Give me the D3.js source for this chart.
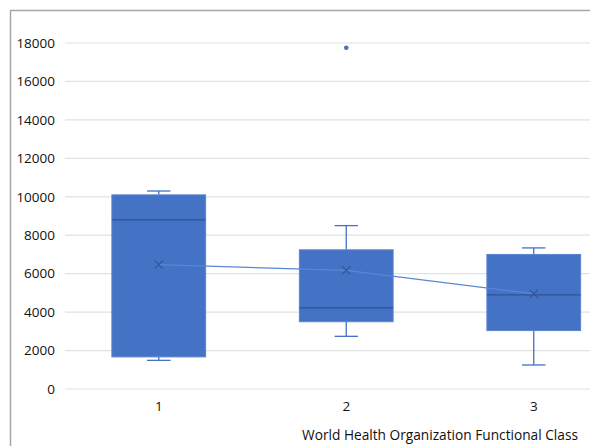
<!DOCTYPE html>
<html>
<head>
<meta charset="utf-8">
<script src="https://cdn.jsdelivr.net/npm/d3@7"></script>
<style>
  body { margin: 0; background: #fff; }
  text { font-family: "Open Sans", "Noto Sans", sans-serif; }
</style>
</head>
<body>
<div id="chart"></div>
<script>
// Données
const categories = ['1', '2', '3'];
const whiskerLow = [1490, 2740, 1250];
const q1 = [1670, 3500, 3040];
const medians = [8800, 4220, 4900];
const q3 = [10100, 7240, 7000];
const whiskerHigh = [10300, 8500, 7340];
const means = [6470, 6170, 4950];
const outliers = [{ cat: '2', value: 17750 }];
const yTicks = [0, 2000, 4000, 6000, 8000, 10000, 12000, 14000, 16000, 18000];
const xTitle = 'World Health Organization Functional Class';

const width = 590;
const height = 446;
const margin = { top: 10, left: 65, bottom: 57 };
const plotRight = 627.5; // la zone de tracé dépasse le bord droit (image recadrée)

const fill = '#4472C4';
const dark = '#2F5597';

const svg = d3.select('#chart')
    .append('svg')
    .attr('width', width)
    .attr('height', height);

// Échelles
const xScale = d3.scaleBand()
    .domain(categories)
    .range([margin.left, plotRight])
    .paddingInner(0.5)
    .paddingOuter(0.25);

const yScale = d3.scaleLinear()
    .domain([0, 18000])
    .range([389, 43]);

// Grille horizontale
svg.append('g')
    .selectAll('line')
    .data(yTicks)
    .join('line')
    .attr('x1', margin.left)
    .attr('x2', width)
    .attr('y1', d => yScale(d))
    .attr('y2', d => yScale(d))
    .attr('stroke', '#e2e2e2')
    .attr('stroke-width', 1.2);

// Axe Y (labels seulement)
const yAxis = svg.append('g')
    .attr('transform', `translate(${margin.left},0)`)
    .call(d3.axisLeft(yScale).tickValues(yTicks).tickSize(0).tickPadding(10).tickFormat(d3.format('d')));
yAxis.select('.domain').remove();
yAxis.selectAll('text')
    .attr('font-size', 13.5)
    .attr('font-family', '"Open Sans", sans-serif')
    .attr('font-weight', 500)
    .attr('fill', '#111');

// Axe X (labels seulement)
const xAxis = svg.append('g')
    .attr('transform', `translate(0,${yScale(0)})`)
    .call(d3.axisBottom(xScale).tickSize(0).tickPadding(12));
xAxis.select('.domain').remove();
xAxis.selectAll('text')
    .attr('font-size', 13.5)
    .attr('font-family', '"Open Sans", sans-serif')
    .attr('font-weight', 500)
    .attr('fill', '#111');

const boxes = categories.map((c, i) => ({
    cat: c, lo: whiskerLow[i], q1: q1[i], med: medians[i], q3: q3[i], hi: whiskerHigh[i], mean: means[i]
}));
const cx = d => xScale(d.cat) + xScale.bandwidth() / 2;
const capHalf = xScale.bandwidth() * 0.125;

const g = svg.append('g');

// Moustaches
g.selectAll('.whisker-hi')
    .data(boxes)
    .join('line')
    .attr('x1', cx).attr('x2', cx)
    .attr('y1', d => yScale(d.q3)).attr('y2', d => yScale(d.hi))
    .attr('stroke', fill).attr('stroke-width', 1.3);
g.selectAll('.whisker-lo')
    .data(boxes)
    .join('line')
    .attr('x1', cx).attr('x2', cx)
    .attr('y1', d => yScale(d.q1)).attr('y2', d => yScale(d.lo))
    .attr('stroke', fill).attr('stroke-width', 1.3);
['hi', 'lo'].forEach(k => {
    g.selectAll('.cap-' + k)
        .data(boxes)
        .join('line')
        .attr('x1', d => cx(d) - capHalf).attr('x2', d => cx(d) + capHalf)
        .attr('y1', d => yScale(d[k])).attr('y2', d => yScale(d[k]))
        .attr('stroke', fill).attr('stroke-width', 1.3);
});

// Boîtes
g.selectAll('rect')
    .data(boxes)
    .join('rect')
    .attr('x', d => xScale(d.cat))
    .attr('width', xScale.bandwidth())
    .attr('y', d => yScale(d.q3))
    .attr('height', d => yScale(d.q1) - yScale(d.q3))
    .attr('fill', fill)
    .attr('stroke', '#5b85d0')
    .attr('stroke-width', 1);

// Médianes
g.selectAll('.median')
    .data(boxes)
    .join('line')
    .attr('x1', d => xScale(d.cat)).attr('x2', d => xScale(d.cat) + xScale.bandwidth())
    .attr('y1', d => yScale(d.med)).attr('y2', d => yScale(d.med))
    .attr('stroke', dark).attr('stroke-width', 1.2);

// Ligne des moyennes
g.append('path')
    .datum(boxes)
    .attr('fill', 'none')
    .attr('stroke', '#5a86d6')
    .attr('stroke-width', 1.2)
    .attr('d', d3.line().x(cx).y(d => yScale(d.mean)));

// Marqueurs X des moyennes
const m = 4;
g.selectAll('.mean')
    .data(boxes)
    .join('path')
    .attr('d', d => {
        const x = cx(d), y = yScale(d.mean);
        return `M${x - m},${y - m}L${x + m},${y + m}M${x - m},${y + m}L${x + m},${y - m}`;
    })
    .attr('stroke', dark)
    .attr('stroke-width', 1.1)
    .attr('fill', 'none');

// Valeurs aberrantes
g.selectAll('.outlier')
    .data(outliers)
    .join('circle')
    .attr('cx', d => xScale(d.cat) + xScale.bandwidth() / 2)
    .attr('cy', d => yScale(d.value))
    .attr('r', 2.3)
    .attr('fill', fill);

// Titre de l'axe X
svg.append('text')
    .attr('x', 440)
    .attr('y', 440)
    .attr('text-anchor', 'middle')
    .attr('font-size', 13.7)
    .attr('font-weight', 500)
    .attr('fill', '#111')
    .text(xTitle);

// Cadre (bord gauche et haut)
svg.append('path')
    .attr('d', `M10.5,${height}V10.5H${width}`)
    .attr('fill', 'none')
    .attr('stroke', '#a6a6a6')
    .attr('stroke-width', 1.5);
</script>
</body>
</html>
